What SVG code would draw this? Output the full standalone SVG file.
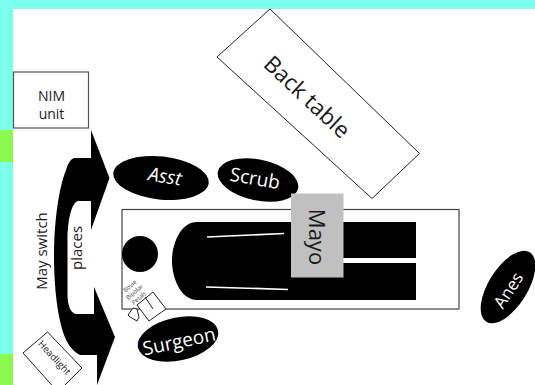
<svg xmlns="http://www.w3.org/2000/svg" width="535" height="385" viewBox="0 0 535 385">
<style>
text{font-family:"Open Sans","Noto Sans","DejaVu Sans",sans-serif;text-anchor:middle;dominant-baseline:central}
.w{fill:#fff}.k{fill:#000}.d{fill:#1a1a1a}
.line{fill:#fff;stroke:#222;stroke-width:1}
.frame{fill:none;stroke:#444;stroke-width:1.2}
.sl{stroke:#fff;stroke-width:1.7;fill:none}
</style>
<rect width="535" height="385" fill="#fff"/>
<g id="border">
<rect width="535" height="9" fill="#7bffec"/>
<rect width="13" height="385" fill="#7bffec"/>
<rect y="130" width="13" height="32" fill="#8dfa4b"/>
<rect y="354" width="13" height="31" fill="#8dfa4b"/>
</g>
<g id="table">
<rect class="frame" x="122" y="209.500" width="337" height="99.500"/>
<circle class="k" cx="140" cy="254" r="18"/>
<path class="k" d="M416 222H197C180 222 172 245 172 261C172 278 181 300 197 300H416V263H343V258H416Z"/>
<path class="sl" d="M207 237L284 233.500M206 287L288 289.500"/>
</g>
<g id="back-table">
<polygon class="line" points="270,9 419.500,153.500 372,198.500 217,57"/>
<text class="d" x="307.500" y="96.500" font-size="22.500" transform="rotate(43 307.500 96.500)">Back table</text>
</g>
<g id="nim-unit">
<rect x="13.500" y="72" width="75" height="56" fill="#fff" stroke="#555" stroke-width="1.200"/>
<text class="d" x="51.500" y="95" font-size="14">NIM</text>
<text class="d" x="51.500" y="113.500" font-size="14">unit</text>
</g>
<g id="connectors">
<path class="k" d="M91 130L109.500 178L91 230V201H78C71 203 67.500 222 67.500 240V295C67.500 306 71 314 77 314H94V287L115 337L97 385V355H80C72 351 65 342 61 325C56 305 54 280 54 255C54 225 58 190 66 170C68 163 71 158 75 158H91Z"/>
</g>
<g id="may-switch">
<text class="d" x="41" y="251" font-size="15" transform="rotate(-90 41 251)">May switch</text>
<text class="d" x="76" y="248" font-size="15" transform="rotate(-90 76 248)">places</text>
</g>
<g id="headlight">
<polygon class="line" points="47.500,332 82,368 58,392 23,353"/>
<text class="d" x="54.500" y="357.500" font-size="9.500" transform="rotate(47 54.500 357.500)">Headlight</text>
</g>
<g id="asst">
<ellipse class="k" cx="161" cy="178" rx="48" ry="21.500" transform="rotate(6 161 178)"/>
<text class="w" x="165" y="176" font-size="19" transform="rotate(9 165 176)" font-style="italic">Asst</text>
</g>
<g id="scrub">
<ellipse class="k" cx="258" cy="180" rx="41" ry="20.500" transform="rotate(12 258 180)"/>
<text class="w" x="255" y="178" font-size="19" transform="rotate(10 255 178)">Scrub</text>
</g>
<g id="mayo">
<rect x="291" y="193.500" width="52.500" height="84" fill="#c0c0c0"/>
<text class="d" x="318" y="237" font-size="22" transform="rotate(90 318 237)">Mayo</text>
</g>
<g id="surgeon">
<ellipse class="k" cx="178" cy="339" rx="41" ry="21.500" transform="rotate(-12 178 339)"/>
<text class="w" x="179" y="341" font-size="19" transform="rotate(-12 179 341)">Surgeon</text>
</g>
<g id="anes">
<ellipse class="k" cx="508" cy="287" rx="41" ry="19.500" transform="rotate(-58 508 287)"/>
<text class="w" x="508" y="290" font-size="17" transform="rotate(-57 508 290)">Anes</text>
</g>
<g id="bovie-bipolar-petals">
<polygon class="line" points="153,292 166,309 149,321 137,305"/>
<path d="M145 297L153 309" stroke="#222" fill="none"/>
<path d="M133 308L128 315L130 317L137 321L139 317L137 309Z" class="line"/>
<text fill="#444" x="130" y="286" font-size="6" transform="rotate(-40 130 286)">Bovie</text>
<text fill="#444" x="134.500" y="292" font-size="6" transform="rotate(-40 134.500 292)">Bipolar</text>
<text fill="#444" x="139" y="298" font-size="6" transform="rotate(-40 139 298)">Petals</text>
</g>
</svg>
